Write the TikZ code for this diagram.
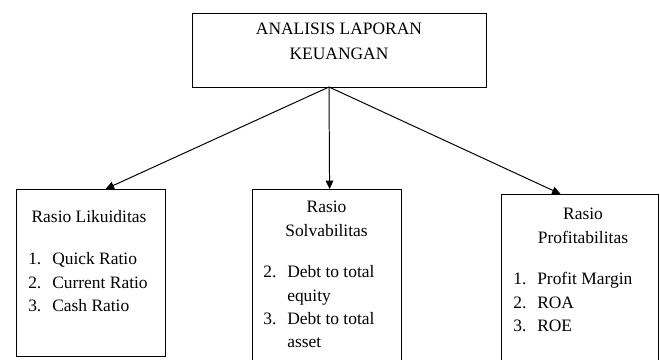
\documentclass[tikz,border=0pt]{standalone}
\usepackage{fontspec}
\setmainfont{Liberation Serif}
\usetikzlibrary{arrows.meta,calc}

\begin{document}
\begin{tikzpicture}[x=0.025cm, y=-0.025cm,
  every node/.style={font=\fontsize{12.4}{16.4}\selectfont, inner sep=0},
  kotak/.style={draw, line width=0.8pt, anchor=north west},
  panah/.style={line width=0.7pt, -{Triangle[length=6pt,width=5.5pt]}}]

\useasboundingbox (0,0) rectangle (660,360);
\clip (0,0) rectangle (660,360);

\node[kotak, minimum width=7.35cm, minimum height=1.85cm] (lap) at (192,13) {};
\node[anchor=base] (judul) at (339,35)
  {\begin{tabular}[t]{@{}c@{}}ANALISIS LAPORAN\\[1pt] KEUANGAN\end{tabular}};

\node[kotak, minimum width=3.725cm, minimum height=4.175cm] (likuid) at (16,189) {};
\node[anchor=base] (judul1) at (89,223) {Rasio Likuiditas};
\node[anchor=base west] (daftar1) at (28,265)
  {\begin{tabular}[t]{@{}p{0.6cm}@{}l@{}}1. & Quick Ratio\\ 2. & Current Ratio\\ 3. & Cash Ratio\end{tabular}};

\node[kotak, minimum width=3.725cm, minimum height=4.75cm] (solva) at (252,189) {};
\node[anchor=base] (judul2) at (326.5,213)
  {\begin{tabular}[t]{@{}c@{}}Rasio\\ Solvabilitas\end{tabular}};
\node[anchor=base west] (daftar2) at (263,278)
  {\begin{tabular}[t]{@{}p{0.6cm}@{}l@{}}2. & Debt to total\\ & equity\\ 3. & Debt to total\\ & asset\end{tabular}};

\node[kotak, minimum width=3.925cm, minimum height=4.75cm] (profit) at (501,194) {};
\node[anchor=base] (judul3) at (583,220)
  {\begin{tabular}[t]{@{}c@{}}Rasio\\ Profitabilitas\end{tabular}};
\node[anchor=base west] (daftar3) at (513,285)
  {\begin{tabular}[t]{@{}p{0.6cm}@{}l@{}}1. & Profit Margin\\ 2. & ROA\\ 3. & ROE\end{tabular}};

\coordinate (pangkal) at (329,87);

\draw[panah] (pangkal) -- ($(likuid.north)+(14.5,0)$);

\draw[panah] (pangkal) -- ($(solva.north)+(2.5,0)$);

\draw[panah] (pangkal) -- ($(profit.north)+(-19.5,0)$);

\end{tikzpicture}
\end{document}
